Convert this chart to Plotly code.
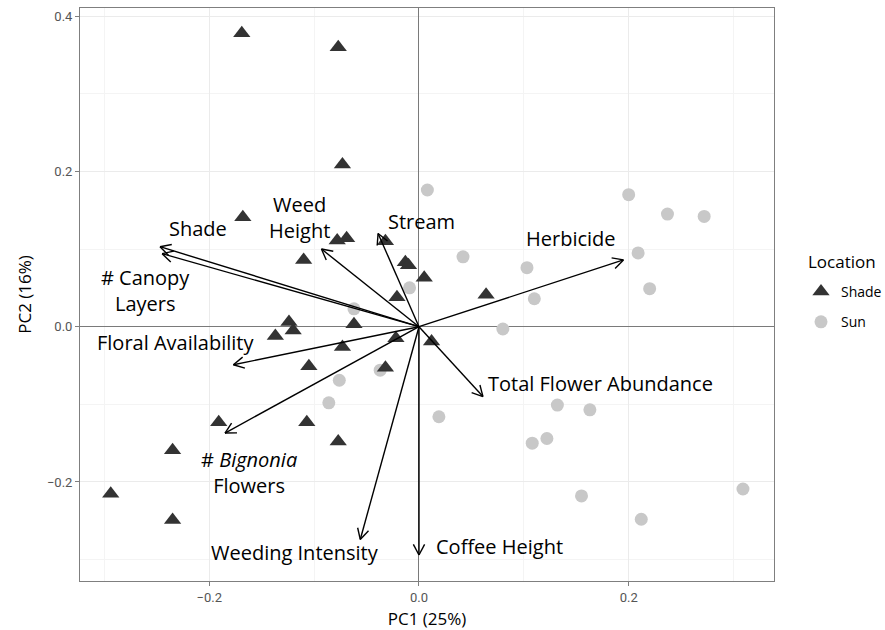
import math
import plotly.graph_objects as go

# ---- PCA site scores -------------------------------------------------------
shade_pc1 = [-0.169, -0.077, -0.073, -0.168, -0.078, -0.069, -0.110, -0.032,
             -0.013, -0.010, 0.005, -0.021, 0.064, -0.124, -0.120, -0.137,
             -0.062, -0.073, -0.022, 0.012, -0.105, -0.032, -0.191, -0.107,
             -0.077, -0.235, -0.294, -0.235]
shade_pc2 = [0.378, 0.360, 0.209, 0.141, 0.111, 0.114, 0.086, 0.110,
             0.083, 0.079, 0.063, 0.038, 0.041, 0.006, -0.005, -0.012,
             0.003, -0.026, -0.015, -0.019, -0.051, -0.053, -0.123, -0.123,
             -0.148, -0.159, -0.215, -0.249]

sun_pc1 = [0.008, 0.200, 0.237, 0.272, 0.042, 0.103, 0.209, 0.110, 0.220,
           -0.009, -0.062, 0.080, 0.019, 0.132, 0.163, 0.108, 0.122, 0.155,
           0.212, 0.309, -0.076, -0.086, -0.037]
sun_pc2 = [0.176, 0.170, 0.145, 0.142, 0.090, 0.076, 0.095, 0.036, 0.049,
           0.050, 0.023, -0.003, -0.116, -0.101, -0.107, -0.150, -0.144,
           -0.218, -0.248, -0.209, -0.069, -0.098, -0.056]

# ---- variable loadings (arrow tips) and their labels ----------------------
var_names = ["Shade", "# Canopy<br>Layers", "Weed<br>Height", "Stream",
             "Herbicide", "Floral Availability", "# <i>Bignonia</i><br>Flowers",
             "Weeding Intensity", "Coffee Height", "Total Flower Abundance"]
var_pc1 = [-0.247, -0.245, -0.093, -0.039, 0.195, -0.177, -0.185, -0.056, 0.000, 0.061]
var_pc2 = [0.103, 0.094, 0.100, 0.120, 0.086, -0.049, -0.137, -0.274, -0.294, -0.090]
label_pc1 = [-0.211, -0.261, -0.1135, 0.0024, 0.145, -0.232, -0.162, -0.118, 0.077, 0.173]
label_pc2 = [0.126, 0.046, 0.140, 0.135, 0.113, -0.021, -0.188, -0.2905, -0.283, -0.073]

x_ticks = [-0.2, 0.0, 0.2]
y_ticks = [-0.2, 0.0, 0.2, 0.4]
x_minor = [-0.3, -0.1, 0.1, 0.3]
y_minor = [-0.3, -0.1, 0.1, 0.3]

# ---- figure geometry ------------------------------------------------------
W, H = 885, 630
M = dict(l=80, r=111, t=8, b=49)
x_range = [-0.3233, 0.3386]
y_range = [-0.3275, 0.4104]
plot_w = W - M["l"] - M["r"]
plot_h = H - M["t"] - M["b"]
sx = plot_w / (x_range[1] - x_range[0])
sy = plot_h / (y_range[1] - y_range[0])

FONT = "Open Sans"
TICK_FONT = "Roboto"

fig = go.Figure()

fig.add_trace(go.Scatter(
    x=sun_pc1, y=sun_pc2, mode="markers", name="Sun",
    legendrank=2, legendgroup="sun",
    marker=dict(symbol="circle", size=13, color="#c8c8c8"),
))
fig.add_trace(go.Scatter(
    x=shade_pc1, y=shade_pc2, mode="markers", name="Shade",
    legendrank=1, legendgroup="shade",
    marker=dict(symbol="triangle-up", size=15, color="#333333"),
))

# arrows from the origin with open V heads (built in pixel space)
head_len = 12.0
head_ang = math.radians(28)
ax_x, ax_y = [], []
for tx, ty in zip(var_pc1, var_pc2):
    ax_x += [0.0, tx, None]
    ax_y += [0.0, ty, None]
    px, py = tx * sx, ty * sy
    n = math.hypot(px, py)
    ux, uy = px / n, py / n
    for s in (1, -1):
        c, si = math.cos(s * head_ang), math.sin(s * head_ang)
        rx = ux * c - uy * si
        ry = ux * si + uy * c
        hx = tx - head_len * rx / sx
        hy = ty - head_len * ry / sy
        ax_x += [hx, tx, None]
        ax_y += [hy, ty, None]

fig.add_trace(go.Scatter(
    x=ax_x, y=ax_y, mode="lines", showlegend=False, hoverinfo="skip",
    line=dict(color="black", width=1.4),
))

for name, lx, ly in zip(var_names, label_pc1, label_pc2):
    fig.add_annotation(
        x=lx, y=ly, xref="x", yref="y", text=name, showarrow=False,
        xanchor="center", yanchor="middle",
        font=dict(family=FONT, size=20, color="black"),
    )

# legend heading
fig.add_annotation(
    x=(806 - M["l"]) / plot_w, y=(H - M["b"] - 261.7) / plot_h,
    xref="paper", yref="paper", text="Location", showarrow=False,
    xanchor="left", yanchor="middle",
    font=dict(family=FONT, size=17, color="black"),
)

axis_common = dict(
    showline=True, mirror=True, linecolor="#7f7f7f", linewidth=1,
    showgrid=True, gridcolor="#ebebeb", gridwidth=1,
    zeroline=True, zerolinecolor="#7a7a7a", zerolinewidth=1.2,
    ticks="outside", ticklen=4, tickcolor="#7f7f7f", tickwidth=1,
    tickfont=dict(family=TICK_FONT, size=13, color="#555555"),
    tickformat=".1f",
)

fig.update_xaxes(
    range=x_range, tickvals=x_ticks,
    minor=dict(tickvals=x_minor, showgrid=True, gridcolor="#f4f4f4",
               gridwidth=0.8, ticks=""),
    title=dict(text="PC1 (25%)", font=dict(family=FONT, size=17, color="black"),
               standoff=9),
    **axis_common,
)
fig.update_yaxes(
    range=y_range, tickvals=y_ticks,
    minor=dict(tickvals=y_minor, showgrid=True, gridcolor="#f4f4f4",
               gridwidth=0.8, ticks=""),
    title=dict(text="PC2 (16%)", font=dict(family=FONT, size=17, color="black"),
               standoff=10),
    **axis_common,
)

fig.update_layout(
    width=W, height=H,
    margin=dict(**M, autoexpand=False),
    plot_bgcolor="white", paper_bgcolor="white",
    font=dict(family=FONT),
    showlegend=True,
    legend=dict(
        x=(801 - M["l"]) / plot_w, y=(H - M["b"] - 276) / plot_h,
        xanchor="left", yanchor="top",
        font=dict(family=FONT, size=14, color="black"),
        tracegroupgap=9,
        bgcolor="rgba(0,0,0,0)",
    ),
)

fig.write_html("out.html")
